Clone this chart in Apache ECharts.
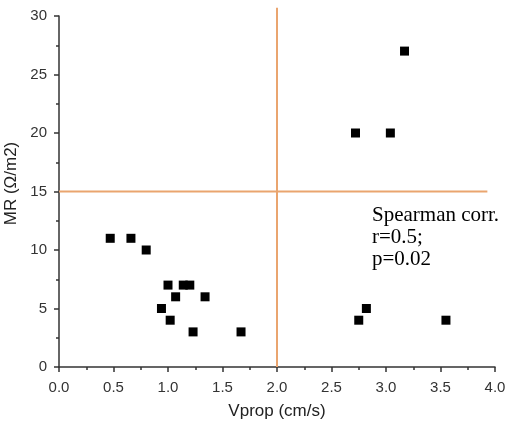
<!DOCTYPE html>
<html>
<head>
<meta charset="utf-8">
<script src="https://cdn.jsdelivr.net/npm/echarts@6/dist/echarts.min.js"></script>
<style>
  html, body { margin: 0; padding: 0; background: #fff; }
  #chart { width: 505px; height: 423px; }
</style>
</head>
<body>
<div id="chart"></div>
<script>
// measured points: Vprop (cm/s), MR (Ω/m2)
const vprop = [0.47, 0.66, 0.80, 0.94, 1.00, 1.02, 1.07, 1.14, 1.20, 1.23, 1.34, 1.67, 2.72, 3.04, 3.17, 2.75, 2.82, 3.55]
const mr = [11, 11, 10, 5, 7, 4, 6, 7, 7, 3, 6, 3, 20, 20, 27, 4, 5, 4]

// quadrant cut lines
const vCut = [[2.0, 0], [2.0, 30.7]]
const hCut = [[0, 15], [3.93, 15]]

const xTicks = ['0.0', '0.5', '1.0', '1.5', '2.0', '2.5', '3.0', '3.5', '4.0']
const statLines = ['Spearman corr.', 'r=0.5;', 'p=0.02']

const axisColor = '#333'
const cutColor = '#eaa56f'

const chart = echarts.init(document.getElementById('chart'))

chart.setOption({
  animation: false,
  grid: { left: 59, right: 10, top: 16, bottom: 56, outerBoundsMode: 'none' },
  xAxis: {
    type: 'value',
    min: 0,
    max: 4,
    interval: 0.5,
    name: 'Vprop (cm/s)',
    nameLocation: 'middle',
    nameGap: 36,
    nameTextStyle: { fontFamily: 'Liberation Sans', fontSize: 17, color: '#222' },
    axisLine: { show: true, lineStyle: { color: axisColor, width: 1.5 } },
    axisTick: { show: true, length: 5, lineStyle: { color: axisColor, width: 1.5 } },
    minorTick: { show: true, splitNumber: 2, length: 3, lineStyle: { color: axisColor, width: 1.5 } },
    axisLabel: {
      fontFamily: 'Liberation Sans',
      fontSize: 15,
      color: '#333',
      margin: 13,
      formatter: (v) => xTicks[Math.round(v / 0.5)]
    },
    splitLine: { show: false }
  },
  yAxis: {
    type: 'value',
    min: 0,
    max: 30,
    interval: 5,
    name: 'MR (Ω/m2)',
    nameLocation: 'middle',
    nameGap: 37,
    nameTextStyle: { fontFamily: 'Liberation Sans', fontSize: 17, color: '#222', padding: [0, 0, 0, 16] },
    axisLine: { show: true, lineStyle: { color: axisColor, width: 1.5 } },
    axisTick: { show: true, length: 5, lineStyle: { color: axisColor, width: 1.5 } },
    minorTick: { show: true, splitNumber: 2, length: 3, lineStyle: { color: axisColor, width: 1.5 } },
    axisLabel: { fontFamily: 'Liberation Sans', fontSize: 15, color: '#333', margin: 12 },
    splitLine: { show: false }
  },
  graphic: [
    {
      type: 'text',
      left: 372,
      top: 204,
      style: {
        text: statLines.join('\n'),
        font: '21px "Liberation Serif"',
        lineHeight: 22,
        fill: '#000'
      }
    }
  ],
  series: [
    {
      type: 'line',
      data: vCut,
      clip: false,
      symbol: 'none',
      silent: true,
      lineStyle: { color: cutColor, width: 2 },
      z: 1
    },
    {
      type: 'line',
      data: hCut,
      clip: false,
      symbol: 'none',
      silent: true,
      lineStyle: { color: cutColor, width: 2 },
      z: 1
    },
    {
      type: 'scatter',
      data: vprop.map((v, i) => [v, mr[i]]),
      symbol: 'rect',
      symbolSize: 9,
      itemStyle: { color: '#000', opacity: 1 },
      z: 3
    }
  ]
})
</script>
</body>
</html>
